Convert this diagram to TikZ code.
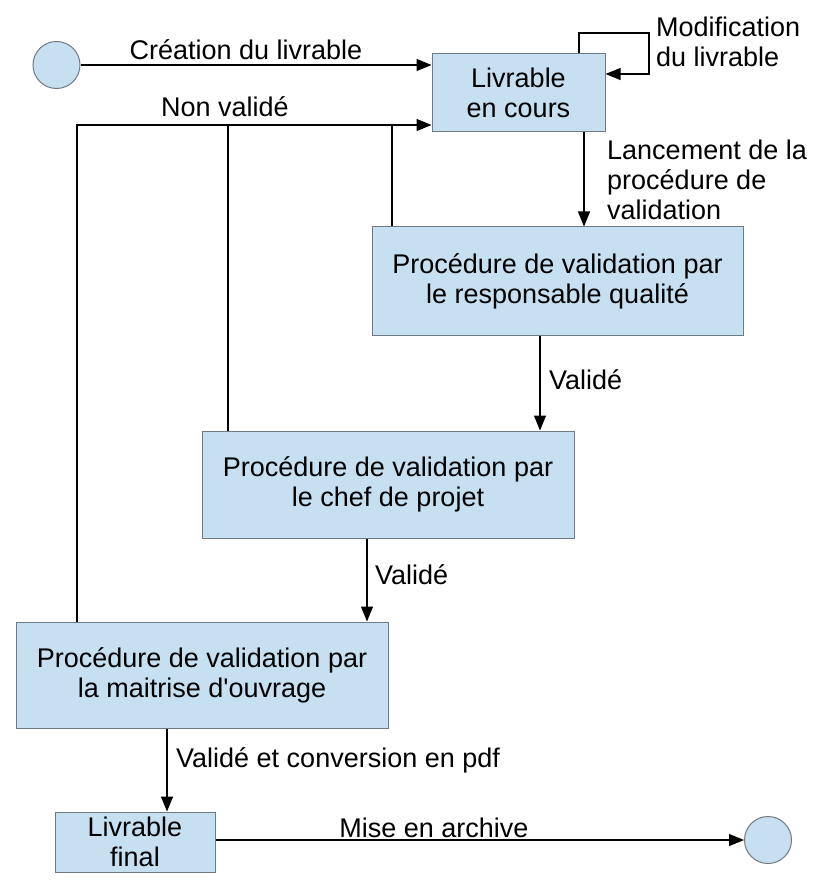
\documentclass[tikz,border=0pt]{standalone}
\usepackage{fontspec}
\setmainfont{Liberation Sans}[Ligatures=TeXOff]
\usepackage{tikz}
\usetikzlibrary{arrows.meta, positioning}
\usepackage{xcolor}
\definecolor{boxblue}{RGB}{198,223,241}
\definecolor{boxedge}{RGB}{112,122,132}

\begin{document}
\begin{tikzpicture}[ % Starts the TikZ drawing environment
        x=1pt, y=-1pt, % One unit is one pixel of the reference, y goes down
        every node/.style={font=\fontsize{27}{30}\selectfont, align=center, inner sep=0pt}, % Default style for all nodes
        mynode/.style={rectangle, draw=boxedge, fill=boxblue, line width=1pt}, % Blue boxes
        mystate/.style={circle, draw=boxedge, fill=boxblue, line width=1pt, minimum size=47pt}, % Start and end circles
        myarrow/.style={-{Triangle[length=15pt, width=12pt]}, line width=1.2pt}, % Custom style for arrows
        myline/.style={line width=1.2pt} % Plain connector
    ]
    \useasboundingbox (0,0) rectangle (831,890);
    % --- TikZ Nodes (positioning and content) ---
    \node (S) [mystate] at (56.5,65) {};
    \node (A) [mynode, minimum width=173pt, minimum height=78pt] at (518.5,93) {Livrable\\en cours};
    \node (B) [mynode, minimum width=371pt, minimum height=108pt] at (557.5,281) {Procédure de validation par\\le responsable qualité};
    \node (C) [mynode, minimum width=372pt, minimum height=107pt] at (388,484.5) {Procédure de validation par\\le chef de projet};
    \node (D) [mynode, minimum width=372pt, minimum height=106pt] at (202,675) {Procédure de validation par\\la maitrise d'ouvrage};
    \node (E) [mynode, minimum width=160pt, minimum height=60pt] at (135,842) {Livrable\\final};
    \node (F) [mystate] at (768,840) {};
    \coordinate (M) at (649,33); % Corner of the loop on A
    \coordinate (R) at ([yshift=-32pt]A.west); % Where the "Non validé" lines come back
    % --- TikZ Connections (drawing arrows between nodes) ---
    \draw[myarrow] (S.east) -- (S.east -| A.west);
    \draw[myarrow] ([xshift=60.5pt]A.north) |- (M) |- ([yshift=19pt]A.east);
    \draw[myarrow] ([xshift=-125pt]D.north) |- (R);
    \draw[myline] ([xshift=-160pt]C.north) -- ([xshift=-160pt]C.north |- R);
    \draw[myline] ([xshift=-165.5pt]B.north) -- ([xshift=-165.5pt]B.north |- R);
    \draw[myarrow] ([xshift=65.5pt]A.south) -- ([xshift=65.5pt]A.south |- B.north);
    \draw[myarrow] ([xshift=152pt]C.north |- B.south) -- ([xshift=152pt]C.north);
    \draw[myarrow] ([xshift=165pt]D.north |- C.south) -- ([xshift=165pt]D.north);
    \draw[myarrow] ([xshift=32pt]E.north |- D.south) -- ([xshift=32pt]E.north);
    \draw[myarrow] (E.east |- F.west) -- (F.west);
    % --- Labels on the connections ---
    \node (l1) at (246,50) {Création du livrable};
    \node (l2) [anchor=west, align=left] at (656,42) {Modification\\du livrable};
    \node (l3) at (225,107) {Non validé};
    \node (l4) [anchor=west, align=left] at (607,180) {Lancement de la\\procédure de\\validation};
    \node (l5) [anchor=west] at (549,380) {Validé};
    \node (l6) [anchor=west] at (375,575) {Validé};
    \node (l7) [anchor=west] at (176,760) {Validé et conversion en pdf};
    \node (l8) at (434,828) {Mise en archive};
\end{tikzpicture}
\end{document}
